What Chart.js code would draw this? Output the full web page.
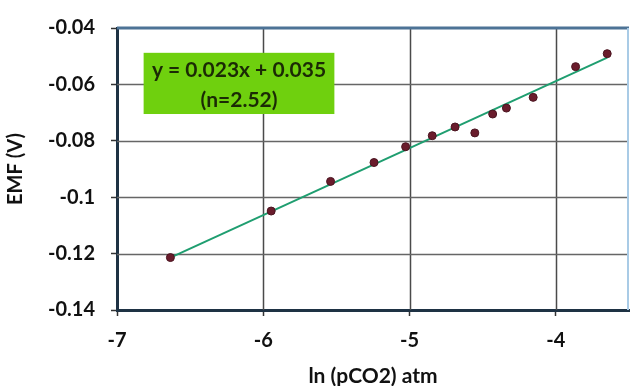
<!DOCTYPE html>
<html>
<head>
<meta charset="utf-8">
<script src="https://cdn.jsdelivr.net/npm/chart.js@4/dist/chart.umd.min.js"></script>
<style>
  html, body { margin: 0; padding: 0; background: #fff; }
  #wrap { width: 634px; height: 386px; position: relative; }
</style>
</head>
<body>
<div id="wrap"><canvas id="chart"></canvas></div>
<script>
// measured points (ln pCO2, EMF)
const lnPco2 = [-6.635, -5.946, -5.54, -5.243, -5.027, -4.845, -4.689, -4.554, -4.432, -4.338, -4.155, -3.865, -3.649];
const emf    = [-0.1214, -0.1049, -0.0944, -0.0877, -0.0821, -0.0782, -0.0751, -0.0772, -0.0705, -0.0684, -0.0646, -0.0537, -0.0491];

// fitted line end points
const fitX = [-6.635, -3.649];
const fitY = [-0.1214, -0.0505];

const xTicks = [-7, -6, -5, -4];
const yTicks = [-0.14, -0.12, -0.1, -0.08, -0.06, -0.04];
const eqLines = ['y = 0.023x + 0.035', '(n=2.52)'];

const FONT = 'Lato, "Open Sans", sans-serif';

// grid lines drawn from the scale ticks, under the data
const gridLines = {
  id: 'gridLines',
  beforeDatasetsDraw(chart) {
    const { ctx, chartArea: a, scales: { x, y } } = chart;
    ctx.save();
    ctx.lineWidth = 1.5;
    ctx.strokeStyle = '#4a4a4a';
    x.ticks.forEach(t => {
      const px = Math.round(x.getPixelForValue(t.value)) + 0.5;
      if (t.value === -7) return;
      ctx.beginPath(); ctx.moveTo(px, a.top); ctx.lineTo(px, a.bottom); ctx.stroke();
    });
    ctx.strokeStyle = '#666';
    y.ticks.forEach(t => {
      const py = Math.round(y.getPixelForValue(t.value)) + 0.5;
      if (t.value === -0.14 || t.value === -0.04) return;
      ctx.beginPath(); ctx.moveTo(a.left, py); ctx.lineTo(a.right, py); ctx.stroke();
    });
    ctx.restore();
  }
};

// green equation box + plot frame (top / right edges)
const extras = {
  id: 'extras',
  afterDraw(chart) {
    const { ctx, chartArea: a, scales: { x, y } } = chart;
    ctx.save();
    ctx.strokeStyle = '#4d7396';
    ctx.lineWidth = 3;
    ctx.beginPath(); ctx.moveTo(a.left, a.top); ctx.lineTo(a.right, a.top); ctx.stroke();
    ctx.strokeStyle = '#a9cbe6';
    ctx.lineWidth = 2;
    ctx.beginPath(); ctx.moveTo(a.right - 1, a.top); ctx.lineTo(a.right - 1, a.bottom); ctx.stroke();

    const l = x.getPixelForValue(-6.818), r = x.getPixelForValue(-5.514);
    const t = y.getPixelForValue(-0.0488), b = y.getPixelForValue(-0.0705);
    ctx.fillStyle = '#6fd00e';
    ctx.fillRect(l, t, r - l, b - t);
    ctx.fillStyle = '#1b2a05';
    ctx.font = 'bold 21px ' + FONT;
    ctx.textAlign = 'center';
    ctx.textBaseline = 'middle';
    const cx = (l + r) / 2;
    ctx.fillText(eqLines[0], cx, t + 17);
    ctx.fillText(eqLines[1], cx, t + 47);
    ctx.restore();
  }
};

new Chart(document.getElementById('chart'), {
  type: 'scatter',
  data: {
    datasets: [
      {
        label: 'fit',
        data: fitX.map((v, i) => ({ x: v, y: fitY[i] })),
        showLine: true,
        borderColor: '#1f9e70',
        borderWidth: 2,
        pointRadius: 0,
        order: 2
      },
      {
        label: 'EMF',
        data: lnPco2.map((v, i) => ({ x: v, y: emf[i] })),
        backgroundColor: '#6a1c2c',
        borderColor: '#4a1420',
        borderWidth: 1,
        pointRadius: 4,
        order: 1
      }
    ]
  },
  options: {
    responsive: true,
    maintainAspectRatio: false,
    animation: false,
    layout: { padding: { top: 26, right: 1, left: 0, bottom: 0 } },
    plugins: { legend: { display: false }, tooltip: { enabled: false } },
    scales: {
      x: {
        type: 'linear',
        min: -7, max: -3.5,
        afterBuildTicks: s => { s.ticks = xTicks.map(v => ({ value: v })); },
        afterFit: s => { s.height = 76; },
        ticks: { color: '#111', font: { family: FONT, size: 20, weight: 'bold' }, padding: 13 },
        grid: { drawOnChartArea: false, tickLength: 6, tickColor: '#333', tickWidth: 1.5 },
        border: { color: '#1e3244', width: 3 },
        title: { display: true, text: 'ln (pCO2) atm', color: '#111',
                 font: { family: FONT, size: 21, weight: 'bold', lineHeight: 0.95 }, padding: { top: 0, bottom: 0 } }
      },
      y: {
        type: 'linear',
        min: -0.14, max: -0.04,
        afterBuildTicks: s => { s.ticks = yTicks.map(v => ({ value: v })); },
        afterFit: s => { s.width = 117; },
        ticks: { color: '#111', font: { family: FONT, size: 20, weight: 'bold' }, padding: 16,
                 callback: v => String(+v.toFixed(2)) },
        grid: { drawOnChartArea: false, tickLength: 6, tickColor: '#333', tickWidth: 1.5 },
        border: { color: '#1e3244', width: 3 },
        title: { display: true, text: 'EMF (V)', color: '#111', font: { family: FONT, size: 20, weight: 'bold' }, padding: { bottom: 4 } }
      }
    }
  },
  plugins: [gridLines, extras]
});
</script>
</body>
</html>
